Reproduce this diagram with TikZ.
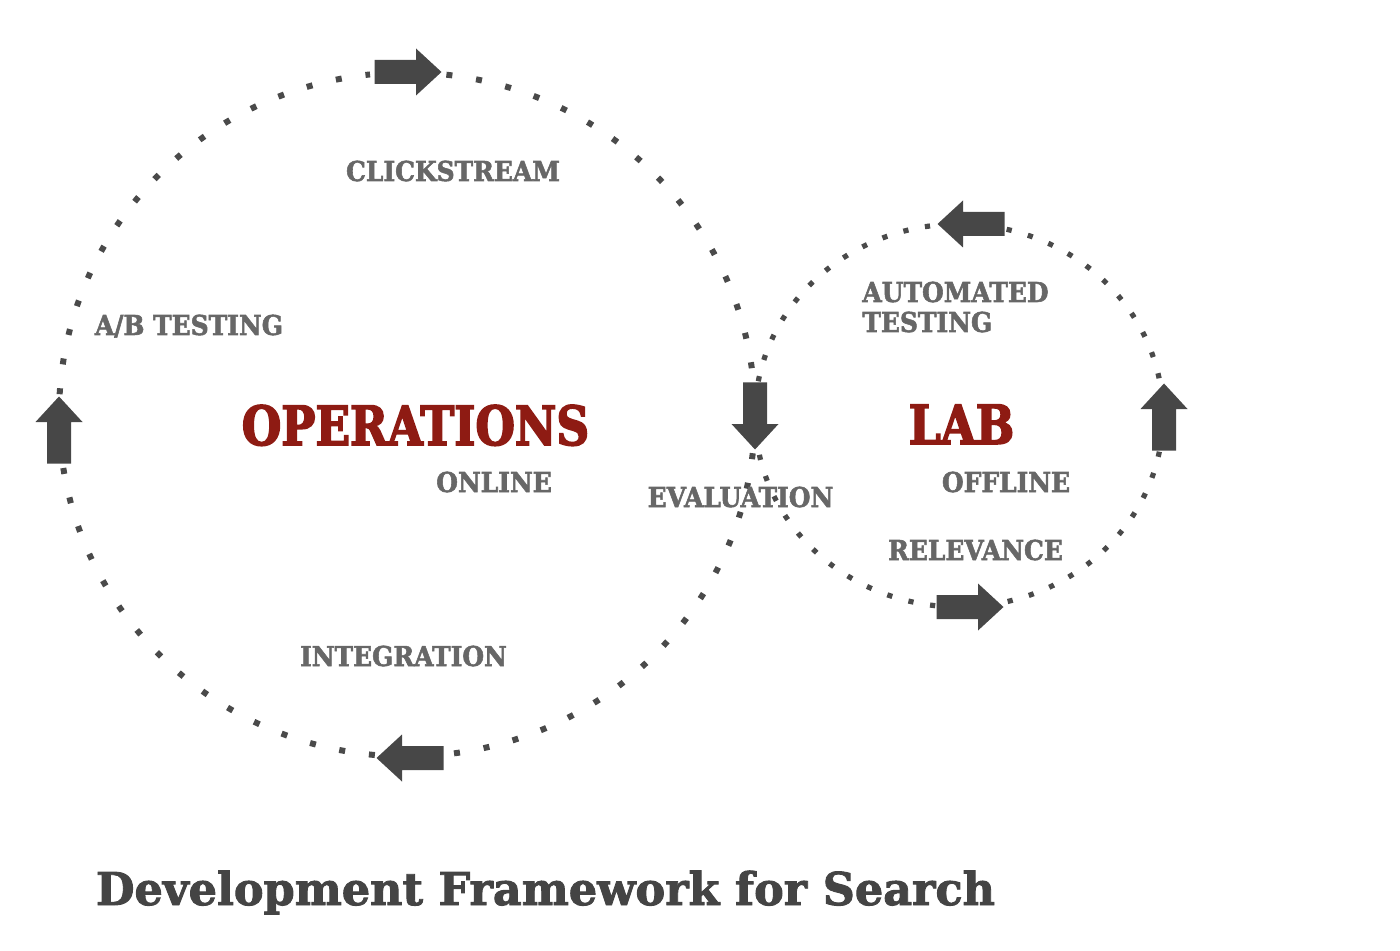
\documentclass[tikz,border=0pt]{standalone}
\usepackage{fontspec}
\setmainfont{DejaVu Serif}
\newfontfamily\lblfont{DejaVu Serif}[FakeStretch=0.91, BoldFeatures={FakeBold=2}]
\newfontfamily\bigfont{DejaVu Serif}[FakeStretch=0.84, BoldFeatures={FakeBold=3}]
\newfontfamily\ttlfont{DejaVu Serif}[FakeStretch=0.985, BoldFeatures={FakeBold=2}]
\usetikzlibrary{calc}
\definecolor{arrowgray}{HTML}{474747}
\definecolor{dotgray}{HTML}{4A4A4A}
\definecolor{labelgray}{HTML}{676767}
\definecolor{titlegray}{HTML}{444444}
\definecolor{darkred}{HTML}{8E1B13}
\tikzset{
  blockarrow/.pic={\fill[arrowgray] (-33.5,-12) -- (8,-12) -- (8,-23.5) -- (33.5,0) -- (8,23.5) -- (8,12) -- (-33.5,12) -- cycle;},
  bigdots/.style={draw=dotgray, line width=3pt, dash pattern=on 3pt off 12pt},
  smalldots/.style={draw=dotgray, line width=2.6pt, dash pattern=on 2.6pt off 8.4pt},
  lbl/.style={inner sep=0pt, text=labelgray, font=\lblfont\fontsize{13.7}{16}\selectfont\bfseries, anchor=base},
  big/.style={inner sep=0pt, text=darkred, font=\bigfont\fontsize{27}{30}\selectfont\bfseries, anchor=base},
  ttl/.style={inner sep=0pt, text=titlegray, font=\ttlfont\fontsize{22.6}{26}\selectfont\bfseries, anchor=base}
}
\begin{document}
\begin{tikzpicture}[x=0.5pt, y=-0.5pt]
\useasboundingbox (0,0) rectangle (1400,951);
% big ellipse: centre (407,414.5), radii 348 x 342
\coordinate (bc) at (407,414.5);
\draw[bigdots] ($(bc)+(276.5:348 and 342)$) arc[start angle=276.5, end angle=354, x radius=348, y radius=342];
\draw[bigdots] ($(bc)+(6.5:348 and 342)$) arc[start angle=6.5, end angle=83.7, x radius=348, y radius=342];
\draw[bigdots] ($(bc)+(95.3:348 and 342)$) arc[start angle=95.3, end angle=171.3, x radius=348, y radius=342];
\draw[bigdots] ($(bc)+(183.4:348 and 342)$) arc[start angle=183.4, end angle=263.9, x radius=348, y radius=342];
% small ellipse: centre (959,415.5), radii 204 x 191.5
\coordinate (sc) at (959,415.5);
\draw[smalldots] ($(sc)+(10.9:204 and 191.5)$) arc[start angle=10.9, end angle=77, x radius=204, y radius=191.5];
\draw[smalldots] ($(sc)+(96.7:204 and 191.5)$) arc[start angle=96.7, end angle=169.1, x radius=204, y radius=191.5];
\draw[smalldots] ($(sc)+(190.3:204 and 191.5)$) arc[start angle=190.3, end angle=263.3, x radius=204, y radius=191.5];
\draw[smalldots] ($(sc)+(283.5:204 and 191.5)$) arc[start angle=283.5, end angle=349.7, x radius=204, y radius=191.5];
% arrows
\pic at (408,72) {blockarrow};
\pic[rotate=-90] at (755,416) {blockarrow};
\pic[rotate=180] at (410,758) {blockarrow};
\pic[rotate=90] at (59,430) {blockarrow};
\pic[rotate=180] at (971,224) {blockarrow};
\pic at (970,607) {blockarrow};
\pic[rotate=90] at (1164,417) {blockarrow};
% labels
\node[lbl] (click) at (453,181) {CLICKSTREAM};
\node[lbl] (ab) at (189,335) {A/B TESTING};
\node[big] (ops) at (415.5,445) {OPERATIONS};
\node[lbl] (online) at (494,492) {ONLINE};
\node[lbl] (eval) at (740.5,507) {EVALUATION};
\node[big] (lab) at (961.5,444) {LAB};
\node[lbl] (offline) at (1006,492) {OFFLINE};
\node[lbl, anchor=base west] (auto) at (862,302) {AUTOMATED};
\node[lbl, anchor=base west] (autotest) at (862,332) {TESTING};
\node[lbl] (relev) at (975.5,560) {RELEVANCE};
\node[lbl] (integ) at (403.5,666) {INTEGRATION};
\node[ttl] (title) at (545.5,905) {Development Framework for Search};
\end{tikzpicture}
\end{document}
